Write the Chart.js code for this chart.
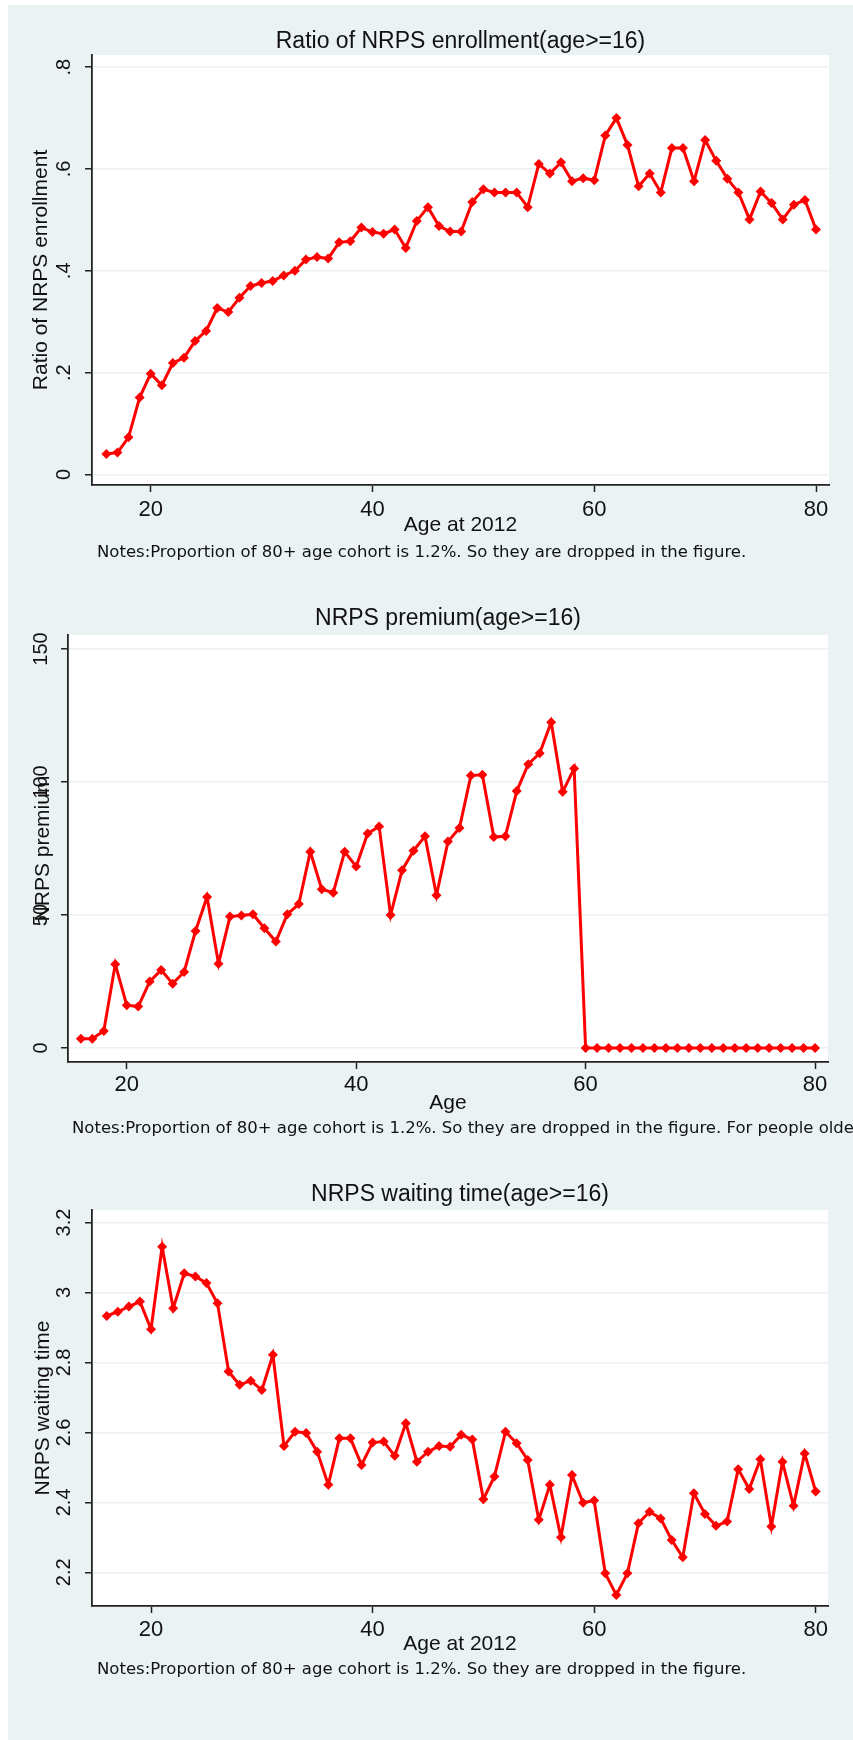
<!DOCTYPE html>
<html>
<head>
<meta charset="utf-8">
<script src="https://cdn.jsdelivr.net/npm/chart.js@4.4.0/dist/chart.umd.min.js"></script>
<style>
  body { margin: 0; width: 853px; height: 1740px; overflow: hidden; background: #fff; position: relative; }
  .panel { position: absolute; left: 8px; width: 845px; background: #eaf2f3; overflow: hidden; }
  .panel canvas { position: absolute; left: 0; top: 0; }
  .note { position: absolute; font-family: "DejaVu Sans", Verdana, sans-serif; font-size: 16.5px; line-height: 16.5px; color: #111; white-space: nowrap; }
</style>
</head>
<body>

<div class="panel" style="top:5px;height:580px">
  <canvas id="enrollChart" width="845" height="580"></canvas>
  <div class="note" style="left:89px;top:539px">Notes:Proportion of 80+ age cohort is 1.2%. So they are dropped in the figure.</div>
</div>
<div class="panel" style="top:585px;height:577px">
  <canvas id="premiumChart" width="845" height="577"></canvas>
  <div class="note" style="left:64px;top:535px">Notes:Proportion of 80+ age cohort is 1.2%. So they are dropped in the figure. For people older than 60</div>
</div>
<div class="panel" style="top:1162px;height:578px">
  <canvas id="waitingChart" width="845" height="578"></canvas>
  <div class="note" style="left:89px;top:499px">Notes:Proportion of 80+ age cohort is 1.2%. So they are dropped in the figure.</div>
</div>

<script>
// ages 16..80
var ages = [16,17,18,19,20,21,22,23,24,25,26,27,28,29,30,31,32,33,34,35,36,37,38,39,40,
            41,42,43,44,45,46,47,48,49,50,51,52,53,54,55,56,57,58,59,60,
            61,62,63,64,65,66,67,68,69,70,71,72,73,74,75,76,77,78,79,80];

var enrollment = [.040,.043,.073,.151,.198,.175,.219,.229,.262,.282,.327,.319,.347,.370,.376,.380,.391,.400,.422,.427,.424,.456,.458,.485,.476,
                  .473,.481,.445,.498,.525,.488,.477,.477,.535,.560,.554,.554,.554,.525,.610,.591,.613,.576,.582,.578,
                  .666,.700,.647,.566,.591,.554,.641,.641,.576,.657,.616,.581,.554,.501,.556,.533,.501,.530,.539,.481];

var premium = [3.5,3.5,6.4,31.5,16.1,15.6,25.0,29.3,24.2,28.6,44.0,56.8,31.7,49.4,49.8,50.3,45.0,40.0,50.3,54.1,73.8,59.7,58.4,73.8,68.2,
               80.6,83.3,50.0,66.8,74.2,79.6,57.4,77.6,82.7,102.4,102.7,79.3,79.6,96.6,106.7,110.8,122.5,96.3,105.1,0,
               0,0,0,0,0,0,0,0,0,0,0,0,0,0,0,0,0,0,0,0];

var waiting = [2.933,2.945,2.960,2.974,2.895,3.131,2.955,3.055,3.046,3.027,2.969,2.774,2.736,2.748,2.721,2.822,2.561,2.602,2.598,2.545,2.450,2.583,2.583,2.507,2.571,
               2.574,2.533,2.626,2.516,2.545,2.561,2.559,2.593,2.580,2.409,2.474,2.602,2.569,2.521,2.350,2.450,2.300,2.478,2.399,2.405,
               2.197,2.135,2.197,2.340,2.373,2.354,2.292,2.243,2.426,2.367,2.333,2.345,2.495,2.438,2.523,2.331,2.516,2.390,2.540,2.431];

var xTicks = [20, 40, 60, 80];
var xTickLabels = ['20', '40', '60', '80'];

var enrollTicks = [0, 0.2, 0.4, 0.6, 0.8];
var enrollTickLabels = ['0', '.2', '.4', '.6', '.8'];
var premiumTicks = [0, 50, 100, 150];
var premiumTickLabels = ['0', '50', '100', '150'];
var waitingTicks = [2.2, 2.4, 2.6, 2.8, 3, 3.2];
var waitingTickLabels = ['2.2', '2.4', '2.6', '2.8', '3', '3.2'];

var FONT = 'Liberation Sans';
var INK = '#111';

// white plot region on the grey graph background
var plotBg = {
    id: 'plotBg',
    beforeDraw: function(chart) {
        var a = chart.chartArea, ctx = chart.ctx;
        ctx.save();
        ctx.fillStyle = '#ffffff';
        ctx.fillRect(a.left, a.top, a.right - a.left, a.bottom - a.top);
        ctx.restore();
    }
};

function makeChart(id, values, s) {
    var points = ages.map(function(a, i) { return {x: a, y: values[i]}; });

    return new Chart(document.getElementById(id), {
        type: 'line',
        data: {
            datasets: [{
                data: points,
                borderColor: '#ff0000',
                backgroundColor: '#ff0000',
                borderWidth: 3,
                pointStyle: 'rectRot',
                pointRadius: 5,
                pointBorderWidth: 0,
                pointBackgroundColor: '#ff0000',
                tension: 0,
                fill: false
            }]
        },
        options: {
            responsive: false,
            animation: false,
            events: [],
            layout: {padding: {left: 0, right: s.padRight, top: 0, bottom: s.padBottom}},
            plugins: {
                legend: {display: false},
                tooltip: {enabled: false},
                title: {
                    display: true,
                    text: s.title,
                    fullSize: false,
                    color: INK,
                    font: {family: FONT, size: 23, weight: 'normal'},
                    padding: {top: s.titleTop, bottom: s.titleBottom}
                }
            },
            scales: {
                x: {
                    type: 'linear',
                    min: s.xMin,
                    max: s.xMax,
                    afterBuildTicks: function(sc) { sc.ticks = xTicks.map(function(v) { return {value: v}; }); },
                    afterFit: function(sc) { sc.height = 60; },
                    grid: {drawOnChartArea: false, drawTicks: true, tickLength: 7, tickColor: '#222', tickWidth: 1.5},
                    border: {display: true, color: '#222', width: 1.8},
                    ticks: {
                        color: INK,
                        font: {family: FONT, size: 22},
                        padding: s.xTickPad,
                        maxRotation: 0,
                        callback: function(v, i) { return xTickLabels[i]; }
                    },
                    title: {
                        display: true,
                        text: s.xTitle,
                        color: INK,
                        font: {family: FONT, size: 21},
                        padding: {top: 0, bottom: s.xTitlePad}
                    }
                },
                y: {
                    type: 'linear',
                    min: s.yMin,
                    max: s.yMax,
                    afterBuildTicks: function(sc) { sc.ticks = s.yTicks.map(function(v) { return {value: v}; }); },
                    afterFit: function(sc) { sc.width = s.yWidth; },
                    grid: {color: '#eaf2f3', lineWidth: 1.5, drawTicks: true, tickLength: 7, tickColor: '#222', tickWidth: 1.5},
                    border: {display: true, color: '#222', width: 1.8},
                    ticks: {
                        color: INK,
                        font: {family: FONT, size: 20},
                        padding: s.yTickPad,
                        minRotation: 90,
                        maxRotation: 90,
                        crossAlign: 'center',
                        callback: function(v, i) { return s.yLabels[i]; }
                    },
                    title: {
                        display: true,
                        text: s.yTitle,
                        color: INK,
                        font: {family: FONT, size: 21},
                        padding: {top: s.yTitlePad, bottom: 0}
                    }
                }
            }
        },
        plugins: [plotBg]
    });
}

makeChart('enrollChart', enrollment, {
    title: 'Ratio of NRPS enrollment(age>=16)',
    xTitle: 'Age at 2012',
    yTitle: 'Ratio of NRPS enrollment',
    yTicks: enrollTicks, yLabels: enrollTickLabels,
    xMin: 14.706, xMax: 81.17, yMin: -0.0207, yMax: 0.8239,
    padRight: 24, padBottom: 40, yWidth: 84,
    titleTop: 22.9, titleBottom: -0.5,
    xTickPad: 4.3, xTitlePad: 7.4,
    yTickPad: 12, yTitlePad: 20.4
});

makeChart('premiumChart', premium, {
    title: 'NRPS premium(age>=16)',
    xTitle: 'Age',
    yTitle: 'NRPS premium',
    yTicks: premiumTicks, yLabels: premiumTickLabels,
    xMin: 14.88, xMax: 81.13, yMin: -5.26, yMax: 155.26,
    padRight: 25, padBottom: 40, yWidth: 60,
    titleTop: 20.2, titleBottom: 2.2,
    xTickPad: 2.8, xTitlePad: 5.9,
    yTickPad: 3, yTitlePad: 22.4
});

makeChart('waitingChart', waiting, {
    title: 'NRPS waiting time(age>=16)',
    xTitle: 'Age at 2012',
    yTitle: 'NRPS waiting time',
    yTicks: waitingTicks, yLabels: waitingTickLabels,
    xMin: 14.67, xMax: 81.11, yMin: 2.1036, yMax: 3.236,
    padRight: 25, padBottom: 74, yWidth: 84,
    titleTop: 18.7, titleBottom: 1.7,
    xTickPad: 3.8, xTitlePad: 8.9,
    yTickPad: 6.8, yTitlePad: 22.9
});
</script>
</body>
</html>
